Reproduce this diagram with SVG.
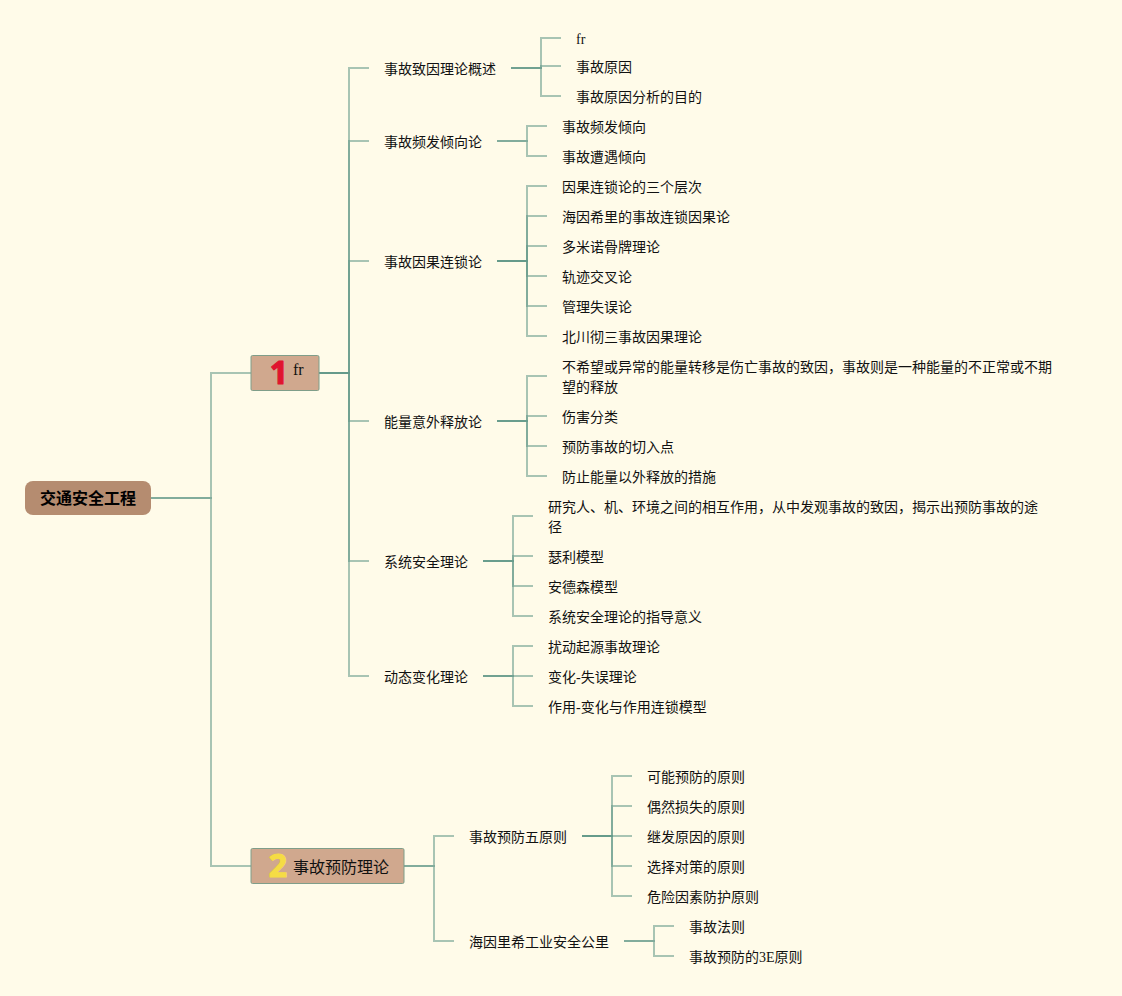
<svg xmlns="http://www.w3.org/2000/svg" width="1122" height="996" viewBox="0 0 1122 996">
<style>
text{font-family:"Liberation Serif","Noto Sans CJK SC",serif;font-size:14px;fill:#111}
#connectors path{fill:none;stroke:#639a8a;stroke-opacity:.56;stroke-width:2}
.t{fill:#d0a88e;stroke:#7f9e8a;stroke-width:1}
.num{font-size:32px;font-weight:bold;font-family:"Open Sans",sans-serif;text-anchor:middle;stroke-width:1.200;stroke-linejoin:round}
</style>
<rect width="1122" height="996" fill="#fffbe9"/>
<g id="connectors">
<path d="M151 498H211V373H251"/>
<path d="M151 498H211V866H251"/>
<path d="M319 373H349V68H369"/>
<path d="M319 373H349V141H369"/>
<path d="M319 373H349V261H369"/>
<path d="M319 373H349V421H369"/>
<path d="M319 373H349V561H369"/>
<path d="M319 373H349V676H369"/>
<path d="M511 68H541V38H561"/>
<path d="M511 68H541V66H561"/>
<path d="M511 68H541V96H561"/>
<path d="M497 141H527V126H547"/>
<path d="M497 141H527V156H547"/>
<path d="M497 261H527V186H547"/>
<path d="M497 261H527V216H547"/>
<path d="M497 261H527V246H547"/>
<path d="M497 261H527V276H547"/>
<path d="M497 261H527V306H547"/>
<path d="M497 261H527V336H547"/>
<path d="M497 421H527V376H547"/>
<path d="M497 421H527V416H547"/>
<path d="M497 421H527V446H547"/>
<path d="M497 421H527V476H547"/>
<path d="M483 561H513V516H533"/>
<path d="M483 561H513V556H533"/>
<path d="M483 561H513V586H533"/>
<path d="M483 561H513V616H533"/>
<path d="M483 676H513V646H533"/>
<path d="M483 676H533"/>
<path d="M483 676H513V706H533"/>
<path d="M404 866H434V836H454"/>
<path d="M404 866H434V941H454"/>
<path d="M582 836H612V776H632"/>
<path d="M582 836H612V806H632"/>
<path d="M582 836H632"/>
<path d="M582 836H612V866H632"/>
<path d="M582 836H612V896H632"/>
<path d="M624 941H654V926H674"/>
<path d="M624 941H654V956H674"/>
</g>
<g id="root"><rect x="25" y="481" width="126" height="34" rx="8" fill="#b58c70"/><text x="88" y="504" text-anchor="middle" style="font-size:16px;font-weight:bold;font-family:'Noto Sans CJK SC',sans-serif;fill:#000">交通安全工程</text></g>
<g id="n1"><rect class="t" x="251" y="355.500" width="68" height="35" rx="1.500"/><text class="num" x="279" y="384" style="fill:#e0142f;stroke:#e0142f">1</text><text x="293" y="375" style="font-size:16px">fr</text></g>
<g id="n2"><rect class="t" x="251" y="848.500" width="153" height="35" rx="1.500"/><text class="num" x="278" y="877" style="fill:#f5dc45;stroke:#f5dc45">2</text><text x="293" y="873" style="font-size:16px">事故预防理论</text></g>
<g id="a1"><text x="384" y="74">事故致因理论概述</text></g>
<g id="a11"><text x="576" y="44">fr</text></g>
<g id="a12"><text x="576" y="72">事故原因</text></g>
<g id="a13"><text x="576" y="102">事故原因分析的目的</text></g>
<g id="a2"><text x="384" y="147">事故频发倾向论</text></g>
<g id="a21"><text x="562" y="132">事故频发倾向</text></g>
<g id="a22"><text x="562" y="162">事故遭遇倾向</text></g>
<g id="a3"><text x="384" y="267">事故因果连锁论</text></g>
<g id="a31"><text x="562" y="192">因果连锁论的三个层次</text></g>
<g id="a32"><text x="562" y="222">海因希里的事故连锁因果论</text></g>
<g id="a33"><text x="562" y="252">多米诺骨牌理论</text></g>
<g id="a34"><text x="562" y="282">轨迹交叉论</text></g>
<g id="a35"><text x="562" y="312">管理失误论</text></g>
<g id="a36"><text x="562" y="342">北川彻三事故因果理论</text></g>
<g id="a4"><text x="384" y="427">能量意外释放论</text></g>
<g id="a41"><text x="562" y="372">不希望或异常的能量转移是伤亡事故的致因，事故则是一种能量的不正常或不期</text><text x="562" y="392">望的释放</text></g>
<g id="a42"><text x="562" y="422">伤害分类</text></g>
<g id="a43"><text x="562" y="452">预防事故的切入点</text></g>
<g id="a44"><text x="562" y="482">防止能量以外释放的措施</text></g>
<g id="a5"><text x="384" y="567">系统安全理论</text></g>
<g id="a51"><text x="548" y="512">研究人、机、环境之间的相互作用，从中发观事故的致因，揭示出预防事故的途</text><text x="548" y="532">径</text></g>
<g id="a52"><text x="548" y="562">瑟利模型</text></g>
<g id="a53"><text x="548" y="592">安德森模型</text></g>
<g id="a54"><text x="548" y="622">系统安全理论的指导意义</text></g>
<g id="a6"><text x="384" y="682">动态变化理论</text></g>
<g id="a61"><text x="548" y="652">扰动起源事故理论</text></g>
<g id="a62"><text x="548" y="682">变化-失误理论</text></g>
<g id="a63"><text x="548" y="712">作用-变化与作用连锁模型</text></g>
<g id="b1"><text x="469" y="842">事故预防五原则</text></g>
<g id="b11"><text x="647" y="782">可能预防的原则</text></g>
<g id="b12"><text x="647" y="812">偶然损失的原则</text></g>
<g id="b13"><text x="647" y="842">继发原因的原则</text></g>
<g id="b14"><text x="647" y="872">选择对策的原则</text></g>
<g id="b15"><text x="647" y="902">危险因素防护原则</text></g>
<g id="b2"><text x="469" y="947">海因里希工业安全公里</text></g>
<g id="b21"><text x="689" y="932">事故法则</text></g>
<g id="b22"><text x="689" y="962">事故预防的3E原则</text></g>
</svg>
